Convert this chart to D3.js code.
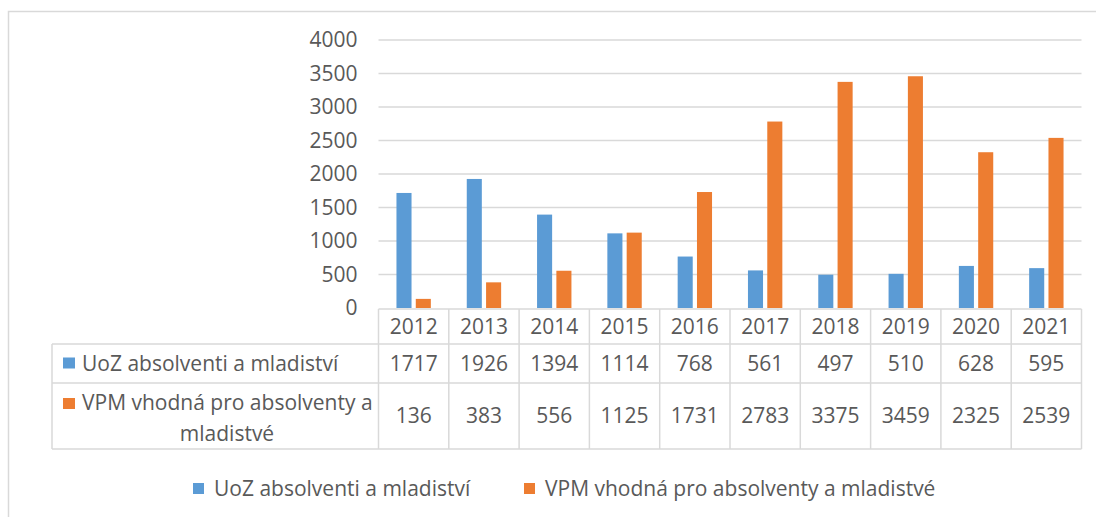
<!DOCTYPE html>
<html>
<head>
<meta charset="utf-8">
<script src="https://cdn.jsdelivr.net/npm/d3@7"></script>
<style>
  body { margin: 0; background: #fff; }
  svg { display: block; font-family: "Open Sans", sans-serif; }
</style>
</head>
<body>
<svg width="1096" height="517"></svg>
<script>
// data
var years = ["2012", "2013", "2014", "2015", "2016", "2017", "2018", "2019", "2020", "2021"];
var uoz = [1717, 1926, 1394, 1114, 768, 561, 497, 510, 628, 595];
var vpm = [136, 383, 556, 1125, 1731, 2783, 3375, 3459, 2325, 2539];
var seriesNames = ["UoZ absolventi a mladiství", "VPM vhodná pro absolventy a mladistvé"];
var yTicks = [0, 500, 1000, 1500, 2000, 2500, 3000, 3500, 4000];

var colors = ["#5b9bd5", "#ed7d31"];
var textColor = "#595959",
    lineColor = "#d9d9d9",
    fontSize = 21;

var svg = d3.select("svg");

// outer chart border (right and bottom run off the picture)
svg.append("rect")
    .attr("x", 8.5).attr("y", 11.5)
    .attr("width", 1200).attr("height", 600)
    .attr("fill", "none")
    .attr("stroke", lineColor)
    .attr("stroke-width", 1.5);

var plotLeft = 378.5, plotRight = 1081.5,
    plotTop = 40, plotBottom = 308;

var x0 = d3.scaleBand()
    .domain(years)
    .range([plotLeft, plotRight]);

var keys = ["uoz", "vpm"];
var x1 = d3.scaleBand()
    .domain(keys)
    .range([0, x0.bandwidth()])
    .paddingInner(0.22)
    .paddingOuter(0.93);

var y = d3.scaleLinear()
    .domain([0, 4000])
    .range([plotBottom, plotTop]);

// gridlines
svg.append("g")
  .selectAll("line")
  .data(yTicks.slice(1))
  .enter().append("line")
    .attr("x1", plotLeft).attr("x2", plotRight)
    .attr("y1", function (d) { return y(d); })
    .attr("y2", function (d) { return y(d); })
    .attr("stroke", lineColor)
    .attr("stroke-width", 1.5);

// y axis labels
var yAxis = svg.append("g")
    .attr("transform", "translate(" + (plotLeft - 21) + ",0)")
    .call(d3.axisLeft(y).tickValues(yTicks).tickFormat(d3.format("d")).tickSize(0).tickPadding(0));
yAxis.select(".domain").remove();
yAxis.selectAll("text")
    .attr("fill", textColor)
    .attr("font-size", fontSize)
    .attr("font-family", "'Open Sans', sans-serif");

// bars
var rows = years.map(function (yr, i) { return { year: yr, uoz: uoz[i], vpm: vpm[i] }; });

svg.append("g")
  .selectAll("g")
  .data(rows)
  .enter().append("g")
    .attr("transform", function (d) { return "translate(" + x0(d.year) + ",0)"; })
  .selectAll("rect")
  .data(function (d) { return keys.map(function (key, k) { return { key: key, value: d[key], color: colors[k] }; }); })
  .enter().append("rect")
    .attr("x", function (d) { return x1(d.key); })
    .attr("y", function (d) { return y(d.value); })
    .attr("width", x1.bandwidth())
    .attr("height", function (d) { return plotBottom - y(d.value); })
    .attr("fill", function (d) { return d.color; });

// data table
var tableLeft = 52,
    rowEdges = [plotBottom + 1, 344, 383, 449];
var table = svg.append("g");

// horizontal lines
table.append("line")
    .attr("x1", plotLeft).attr("x2", plotRight)
    .attr("y1", rowEdges[0]).attr("y2", rowEdges[0]);
rowEdges.slice(1).forEach(function (ry) {
    table.append("line")
        .attr("x1", tableLeft).attr("x2", plotRight)
        .attr("y1", ry).attr("y2", ry);
});
// vertical lines
table.append("line")
    .attr("x1", tableLeft).attr("x2", tableLeft)
    .attr("y1", rowEdges[1]).attr("y2", rowEdges[3]);
years.forEach(function (yr) {
    table.append("line")
        .attr("x1", x0(yr)).attr("x2", x0(yr))
        .attr("y1", rowEdges[0]).attr("y2", rowEdges[3]);
});
table.append("line")
    .attr("x1", plotRight).attr("x2", plotRight)
    .attr("y1", rowEdges[0]).attr("y2", rowEdges[3]);
table.selectAll("line")
    .attr("stroke", lineColor)
    .attr("stroke-width", 1.5);

function cellText(x, yy, txt, anchor) {
    return table.append("text")
        .attr("x", x).attr("y", yy)
        .attr("dy", "0.35em")
        .attr("text-anchor", anchor || "middle")
        .attr("fill", textColor)
        .attr("font-size", fontSize)
        .text(txt);
}

var mid = function (r) { return (rowEdges[r] + rowEdges[r + 1]) / 2; };

years.forEach(function (yr, i) {
    var cx = x0(yr) + x0.bandwidth() / 2;
    cellText(cx, mid(0), yr);
    cellText(cx, mid(1), uoz[i]);
    cellText(cx, mid(2), vpm[i]);
});

// row headers with colour keys
table.append("rect")
    .attr("x", 63).attr("y", mid(1) - 6)
    .attr("width", 12).attr("height", 11)
    .attr("fill", colors[0]);
cellText(82, mid(1), seriesNames[0], "start");

table.append("rect")
    .attr("x", 63).attr("y", 398)
    .attr("width", 12).attr("height", 11)
    .attr("fill", colors[1]);
cellText(82, 403, "VPM vhodná pro absolventy a", "start");
cellText(227, 434, "mladistvé");

// legend
var legend = svg.append("g")
  .selectAll("g")
  .data(seriesNames)
  .enter().append("g")
    .attr("transform", function (d, i) { return "translate(" + [193, 524][i] + ",489)"; });

legend.append("rect")
    .attr("x", 0).attr("y", -6)
    .attr("width", 11).attr("height", 11)
    .attr("fill", function (d, i) { return colors[i]; });

legend.append("text")
    .attr("x", 21)
    .attr("dy", "0.35em")
    .attr("fill", textColor)
    .attr("font-size", fontSize)
    .text(function (d) { return d; });
</script>
</body>
</html>
